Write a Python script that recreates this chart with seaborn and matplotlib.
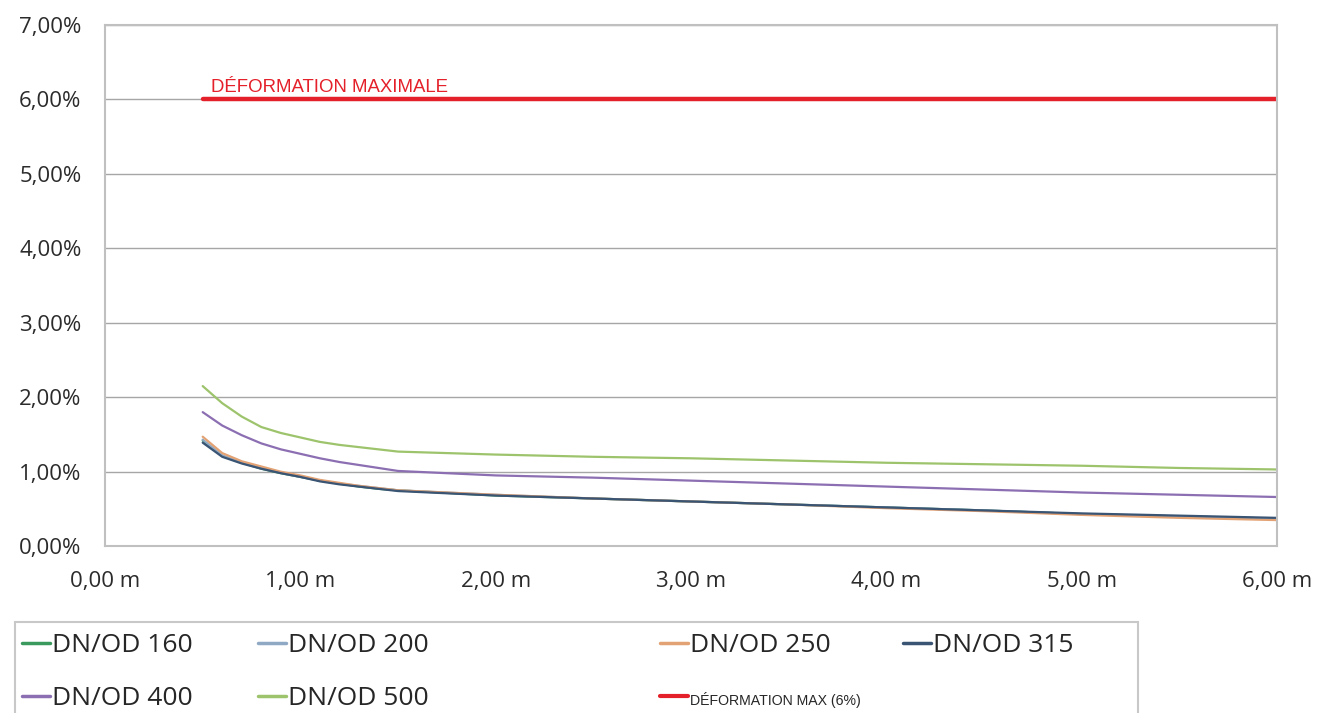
"""
Deformation of pipes vs burial depth, one line per diameter, with the 6% limit
"""

import pandas as pd
import matplotlib
matplotlib.use('Agg')
import matplotlib.pyplot as plt
import seaborn as sns
from matplotlib.lines import Line2D
from matplotlib.patches import Rectangle
from matplotlib.ticker import FuncFormatter, MultipleLocator

# Depth (m) where each curve is read
depth = [0.5, 0.6, 0.7, 0.8, 0.9, 1.0, 1.1, 1.2, 1.3, 1.4, 1.5,
         2.0, 2.5, 3.0, 3.5, 4.0, 4.5, 5.0, 5.5, 6.0]

# Deformation in % for each diameter
dn160 = [1.42, 1.21, 1.12, 1.04, 0.98, 0.93, 0.88, 0.84, 0.80, 0.77, 0.75,
         0.68, 0.64, 0.60, 0.56, 0.52, 0.48, 0.43, 0.40, 0.37]
dn200 = [1.43, 1.22, 1.12, 1.05, 0.99, 0.93, 0.88, 0.84, 0.81, 0.78, 0.75,
         0.69, 0.64, 0.60, 0.56, 0.52, 0.48, 0.43, 0.40, 0.37]
dn250 = [1.47, 1.25, 1.14, 1.07, 1.00, 0.95, 0.89, 0.85, 0.81, 0.78, 0.75,
         0.69, 0.64, 0.60, 0.56, 0.51, 0.47, 0.42, 0.38, 0.35]
dn315 = [1.39, 1.20, 1.11, 1.04, 0.98, 0.93, 0.87, 0.83, 0.80, 0.77, 0.74,
         0.68, 0.64, 0.60, 0.56, 0.52, 0.48, 0.44, 0.41, 0.38]
dn400 = [1.80, 1.62, 1.49, 1.38, 1.30, 1.24, 1.18, 1.13, 1.09, 1.05, 1.01,
         0.95, 0.92, 0.88, 0.84, 0.80, 0.76, 0.72, 0.69, 0.66]
dn500 = [2.15, 1.92, 1.74, 1.60, 1.52, 1.46, 1.40, 1.36, 1.33, 1.30, 1.27,
         1.23, 1.20, 1.18, 1.15, 1.12, 1.10, 1.08, 1.05, 1.03]

limit_depth = [0.5, 6.0]
limit_value = [6.0, 6.0]

series_names = ['DN/OD 160', 'DN/OD 200', 'DN/OD 250', 'DN/OD 315', 'DN/OD 400', 'DN/OD 500']
series_values = [dn160, dn200, dn250, dn315, dn400, dn500]
series_colors = ['#3a9a5e', '#8fa8c4', '#e3a274', '#3a5474', '#8c6fb2', '#9dc46c']
limit_color = '#e4202a'

# Long table for seaborn
rows = []
for name, vals in zip(series_names, series_values):
    for d, v in zip(depth, vals):
        rows.append({'depth': d, 'value': v, 'serie': name})
df = pd.DataFrame(rows)
df_limit = pd.DataFrame({'depth': limit_depth, 'value': limit_value})

sns.set_style('white')
plt.rcParams['font.family'] = ['Open Sans', 'DejaVu Sans']

fig = plt.figure(figsize=(13.26, 7.13), dpi=100)
ax = fig.add_axes([0.0792, 0.234, 0.884, 0.731])

sns.lineplot(data=df, x='depth', y='value', hue='serie', hue_order=series_names,
             palette=series_colors, linewidth=1.6, legend=False, ax=ax)
sns.lineplot(data=df_limit, x='depth', y='value', color=limit_color,
             linewidth=3.2, legend=False, ax=ax)

ax.text(0.545, 6.1, 'DÉFORMATION MAXIMALE', color=limit_color, fontsize=13.4,
        family='Liberation Sans', ha='left', va='baseline')

ax.set_xlim(0, 6)
ax.set_ylim(0, 7)
ax.xaxis.set_major_locator(MultipleLocator(1))
ax.yaxis.set_major_locator(MultipleLocator(1))
ax.xaxis.set_major_formatter(FuncFormatter(lambda v, p: f'{v:.2f}'.replace('.', ',') + ' m'))
ax.yaxis.set_major_formatter(FuncFormatter(lambda v, p: f'{v:.2f}'.replace('.', ',') + '%'))
ax.tick_params(axis='both', labelsize=16, colors='#2b2b2b', length=0)
ax.tick_params(axis='x', pad=18)
ax.tick_params(axis='y', pad=17)
ax.set_xlabel('')
ax.set_ylabel('')

ax.grid(axis='y', color='#a6a6a6', linewidth=1.0)
ax.set_axisbelow(True)
for side in ['left', 'right', 'bottom', 'top']:
    ax.spines[side].set_visible(True)
    ax.spines[side].set_color('#c0c0c0')
    ax.spines[side].set_linewidth(1.5)

# Legend: box with four columns, filled row by row like the original
fig.patches.append(Rectangle((0.011, -0.01), 0.847, 0.137, transform=fig.transFigure,
                             fill=False, edgecolor='#c8c8c8', linewidth=1.5))
handles = [Line2D([], [], color=c, linewidth=2.5) for c in series_colors]
limit_handle = Line2D([], [], color=limit_color, linewidth=3)
columns = [
    ([handles[0], handles[4]], [series_names[0], series_names[4]], 0.0106),
    ([handles[1], handles[5]], [series_names[1], series_names[5]], 0.1886),
    ([handles[2], limit_handle], [series_names[2], 'DÉFORMATION MAX (6%)'], 0.4918),
    ([handles[3]], [series_names[3]], 0.675),
]
for hs, labels, x0 in columns:
    leg = fig.legend(hs, labels, loc='upper left', bbox_to_anchor=(x0, 0.1234),
                     frameon=False, handlelength=1.06, handletextpad=0.08,
                     labelspacing=1.08, borderpad=0.3, borderaxespad=0,
                     prop={'family': 'Open Sans', 'size': 19})
    for t in leg.get_texts():
        t.set_color('#262626')
        if t.get_text().startswith('DÉF'):
            t.set_fontsize(10.2)
            t.set_family('Liberation Sans')

fig.savefig('out.png', dpi=100)
